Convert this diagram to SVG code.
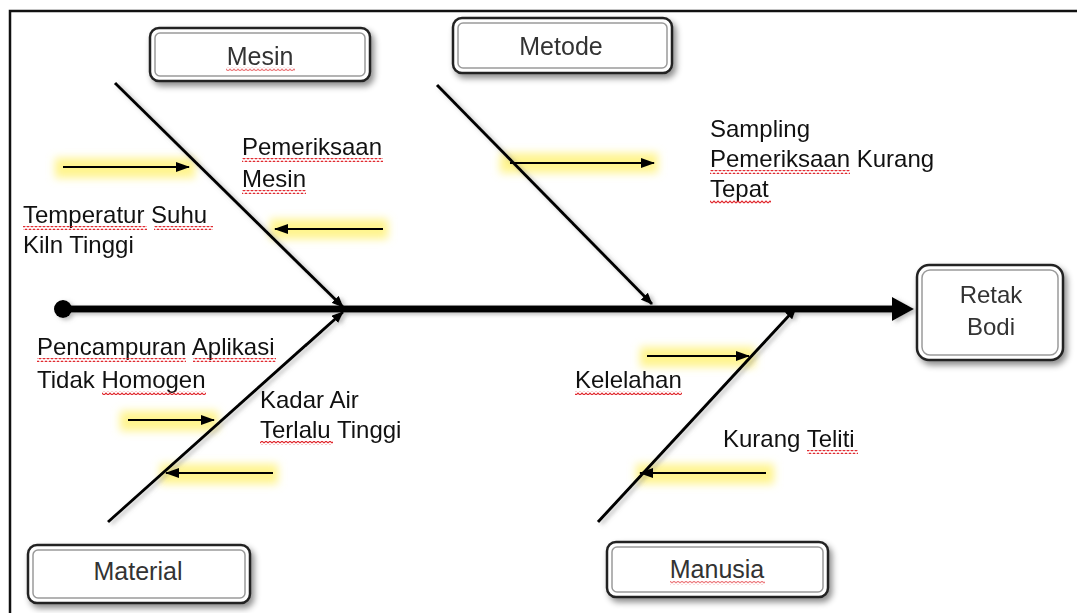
<svg xmlns="http://www.w3.org/2000/svg" width="1077" height="613" viewBox="0 0 1077 613">
<style>
.t{font-family:"Liberation Sans",Arial,sans-serif;font-size:24px;fill:#111}
.bl{font-family:"Liberation Sans",Arial,sans-serif;font-size:25px;fill:#333;text-anchor:middle}
.bone{stroke:#000;stroke-width:3;fill:none}
.arr{stroke:#000;stroke-width:2;fill:none}
.outer{fill:#fff;stroke:#222;stroke-width:2.5}
.inner{fill:none;stroke:#9a9a9a;stroke-width:1.5}
.glow{fill:#fff27a;opacity:.85}
.sq{fill:url(#squig)}
</style>
<defs>
<filter id="blur" x="-20%" y="-100%" width="140%" height="300%"><feGaussianBlur stdDeviation="4"/></filter>
<filter id="sh" x="-20%" y="-20%" width="150%" height="150%"><feDropShadow dx="3" dy="4" stdDeviation="3" flood-color="#000" flood-opacity="0.45"/></filter>
<filter id="bsh" x="-10%" y="-10%" width="130%" height="130%"><feDropShadow dx="3" dy="2" stdDeviation="2" flood-color="#777" flood-opacity="0.5"/></filter>
<marker id="ah" markerWidth="14" markerHeight="10" refX="13" refY="5" orient="auto" markerUnits="userSpaceOnUse"><path d="M0,0 L14,5 L0,10 z" fill="#000"/></marker>
<marker id="bh" markerWidth="12" markerHeight="10" refX="11" refY="5" orient="auto" markerUnits="userSpaceOnUse"><path d="M0,0 L12,5 L0,10 z" fill="#000"/></marker>
<pattern id="squig" width="4" height="4" patternUnits="userSpaceOnUse"><path d="M0,3 L2,1 L4,3" stroke="#e0242a" stroke-width="1.1" fill="none"/></pattern>
</defs>
<rect width="1077" height="613" fill="#fff"/>
<rect x="10" y="11" width="1100" height="700" fill="none" stroke="#111" stroke-width="2.5"/>

<g id="glows" filter="url(#blur)">
<rect class="glow" x="55" y="158" width="140" height="20"/>
<rect class="glow" x="270" y="219" width="118" height="20"/>
<rect class="glow" x="500" y="153" width="158" height="20"/>
<rect class="glow" x="120" y="411" width="98" height="20"/>
<rect class="glow" x="160" y="464" width="118" height="20"/>
<rect class="glow" x="640" y="347" width="115" height="20"/>
<rect class="glow" x="636" y="464" width="138" height="20"/>
</g>

<g id="connectors">
<g filter="url(#bsh)">
<line x1="63" y1="309" x2="896" y2="309" stroke="#000" stroke-width="7"/>
<polygon points="892,297 914,309 892,321" fill="#000"/>
<circle cx="63" cy="309" r="9" fill="#000"/>
<line class="bone" x1="115" y1="83" x2="343" y2="307" marker-end="url(#bh)"/>
<line class="bone" x1="437" y1="85" x2="652" y2="304" marker-end="url(#bh)"/>
<line class="bone" x1="108" y1="522" x2="343" y2="312" marker-end="url(#bh)"/>
<line class="bone" x1="598" y1="522" x2="796" y2="308" marker-end="url(#bh)"/>
</g>
<line class="arr" x1="63" y1="167" x2="189" y2="167" marker-end="url(#ah)"/>
<line class="arr" x1="383" y1="229" x2="275" y2="229" marker-end="url(#ah)"/>
<line class="arr" x1="510" y1="163" x2="654" y2="163" marker-end="url(#ah)"/>
<line class="arr" x1="128" y1="420" x2="214" y2="420" marker-end="url(#ah)"/>
<line class="arr" x1="273" y1="473" x2="166" y2="473" marker-end="url(#ah)"/>
<line class="arr" x1="647" y1="356" x2="749" y2="356" marker-end="url(#ah)"/>
<line class="arr" x1="766" y1="473" x2="640" y2="473" marker-end="url(#ah)"/>
</g>

<g id="mesin">
<rect class="outer" x="150" y="28" width="220" height="53" rx="9" filter="url(#sh)"/>
<rect class="inner" x="155" y="33" width="210" height="43" rx="5"/>
<text class="bl" x="260" y="65">Mesin</text>
<rect class="sq" x="226" y="67" width="69" height="4" opacity=".6"/>
</g>
<g id="metode">
<rect class="outer" x="453" y="18" width="219" height="55" rx="9" filter="url(#sh)"/>
<rect class="inner" x="458" y="23" width="209" height="45" rx="5"/>
<text class="bl" x="561" y="55">Metode</text>
</g>
<g id="material">
<rect class="outer" x="28" y="545" width="222" height="58" rx="9" filter="url(#sh)"/>
<rect class="inner" x="33" y="550" width="212" height="48" rx="5"/>
<text class="bl" x="138" y="580">Material</text>
</g>
<g id="manusia">
<rect class="outer" x="607" y="542" width="221" height="55" rx="9" filter="url(#sh)"/>
<rect class="inner" x="612" y="547" width="211" height="45" rx="5"/>
<text class="bl" x="717" y="578">Manusia</text>
<rect class="sq" x="670" y="581" width="95" height="4" opacity=".6"/>
</g>
<g id="retak-bodi">
<rect class="outer" x="917" y="265" width="146" height="95" rx="12" filter="url(#sh)"/>
<rect class="inner" x="922" y="270" width="136" height="85" rx="8"/>
<text class="bl" x="991" y="303" style="font-size:24px">Retak</text>
<text class="bl" x="991" y="335" style="font-size:24px">Bodi</text>
</g>

<g id="labels">
<text class="t" x="242" y="155">Pemeriksaan</text>
<text class="t" x="242" y="187">Mesin</text>
<text class="t" x="23" y="223">Temperatur Suhu</text>
<text class="t" x="23" y="253">Kiln Tinggi</text>
<text class="t" x="710" y="137">Sampling</text>
<text class="t" x="710" y="167">Pemeriksaan Kurang</text>
<text class="t" x="710" y="197">Tepat</text>
<text class="t" x="37" y="355">Pencampuran Aplikasi</text>
<text class="t" x="37" y="388">Tidak Homogen</text>
<text class="t" x="260" y="408">Kadar Air</text>
<text class="t" x="260" y="438">Terlalu Tinggi</text>
<text class="t" x="575" y="388">Kelelahan</text>
<text class="t" x="723" y="447">Kurang Teliti</text>
</g>

<g id="spellcheck">
<rect class="sq" x="242" y="158" width="141" height="4"/>
<rect class="sq" x="242" y="190" width="64" height="4"/>
<rect class="sq" x="23" y="226" width="124" height="4"/>
<rect class="sq" x="154" y="226" width="59" height="4"/>
<rect class="sq" x="710" y="170" width="140" height="4"/>
<rect class="sq" x="710" y="200" width="61" height="4"/>
<rect class="sq" x="37" y="358" width="149" height="4"/>
<rect class="sq" x="193" y="358" width="83" height="4"/>
<rect class="sq" x="102" y="391" width="104" height="4"/>
<rect class="sq" x="260" y="441" width="73" height="4"/>
<rect class="sq" x="575" y="391" width="107" height="4"/>
<rect class="sq" x="807" y="450" width="51" height="4"/>
</g>
</svg>
